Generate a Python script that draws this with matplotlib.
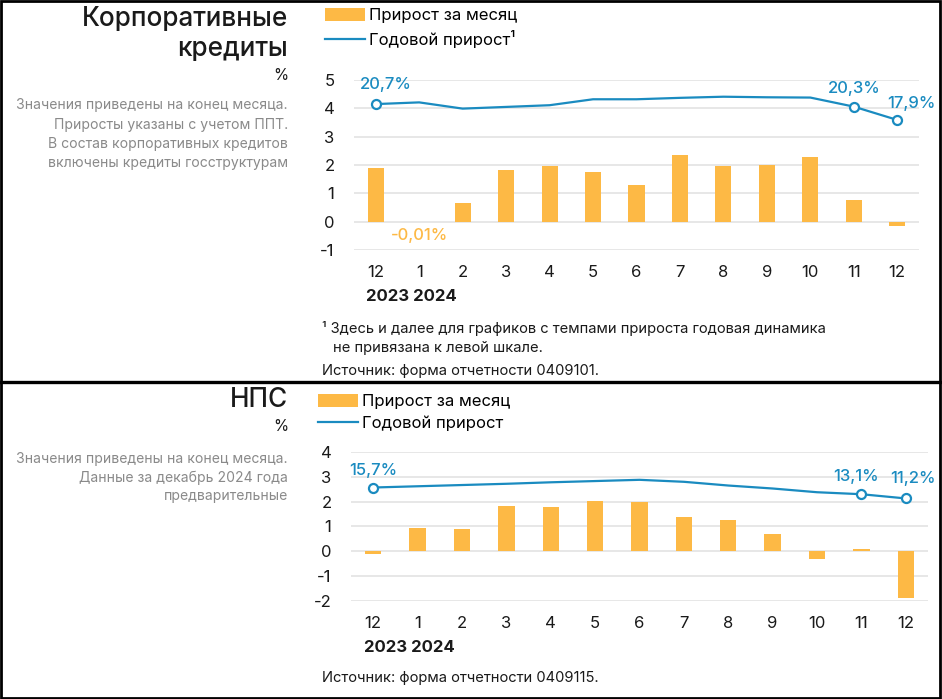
import matplotlib.pyplot as plt
from matplotlib.lines import Line2D
from matplotlib.patches import Rectangle
from matplotlib.transforms import blended_transform_factory

plt.rcParams['font.family'] = ['Inter', 'DejaVu Sans']
plt.rcParams['axes.unicode_minus'] = False

months = ["12", "1", "2", "3", "4", "5", "6", "7", "8", "9", "10", "11", "12"]

# корпоративные кредиты
corp_month = [1.88, -0.01, 0.66, 1.81, 1.96, 1.74, 1.28, 2.34, 1.96, 2.01, 2.28, 0.77, -0.16]
corp_year = [4.15, 4.21, 3.99, 4.05, 4.11, 4.32, 4.32, 4.37, 4.41, 4.39, 4.38, 4.06, 3.59]
corp_year_labels = {0: "20,7%", 11: "20,3%", 12: "17,9%"}

# НПС
nps_month = [-0.12, 0.94, 0.91, 1.82, 1.77, 2.03, 1.99, 1.39, 1.28, 0.71, -0.31, 0.11, -1.89]
nps_year = [2.57, 2.62, 2.67, 2.72, 2.78, 2.83, 2.88, 2.80, 2.65, 2.53, 2.38, 2.30, 2.13]
nps_year_labels = {0: "15,7%", 11: "13,1%", 12: "11,2%"}

ORANGE = "#FDB945"
BLUE = "#1A8BC0"
GRID = "#E3E3E3"
GRAY = "#8A8A8A"
DARK = "#1A1A1A"

W, H = 942, 699
fig = plt.figure(figsize=(W / 100, H / 100), dpi=100)


def fx(px):
    return px / W


def fy(py):
    return 1 - py / H


def panel(rect, month, year, year_labels, ylim, yticks, lab_offsets, neg_label=None):
    ax = fig.add_axes(rect)
    x = list(range(len(month)))
    bars = ax.bar(x, month, width=0.37, color=ORANGE, zorder=2)
    line, = ax.plot(x, year, color=BLUE, lw=1.6, zorder=3)
    idx = list(year_labels.keys())
    ax.plot(idx, [year[i] for i in idx], ls="none", marker="o", ms=6.5,
            mfc="white", mec=BLUE, mew=1.6, zorder=4)
    for i, (dx, dy) in zip(idx, lab_offsets):
        ax.annotate(year_labels[i], (i, year[i]), xytext=(dx, dy), textcoords="offset points",
                    ha="center", va="center", color=BLUE, fontsize=12, fontweight="medium")
    if neg_label is not None:
        i, txt = neg_label
        ax.annotate(txt, (i, month[i]), xytext=(0, -10), textcoords="offset points",
                    ha="center", va="center", color=ORANGE, fontsize=12, fontweight="medium")
    ax.set_xlim(-0.5, len(month) - 0.5)
    ax.set_ylim(*ylim)
    ax.set_yticks(yticks)
    ax.set_xticks(x)
    ax.set_xticklabels(months)
    ax.grid(axis="y", color=GRID, lw=1.2, zorder=0)
    ax.set_axisbelow(True)
    for s in ax.spines.values():
        s.set_visible(False)
    ax.tick_params(axis="x", length=0, pad=11, labelsize=12, colors=DARK)
    ax.tick_params(axis="y", length=0, pad=14, labelsize=12, colors=DARK)
    tr = blended_transform_factory(ax.transData, ax.transAxes)
    return ax, bars, line, tr


# ---------- верхняя панель ----------
ax1, b1, l1, tr1 = panel([fx(354), fy(250), fx(919 - 354), (250 - 80) / H],
                         corp_month, corp_year, corp_year_labels, (-1, 5), range(-1, 6),
                         [(7, 14), (0, 13), (10, 12)], neg_label=(1, "-0,01%"))
ax1.text(-0.22, -0.276, "2023 2024", transform=tr1, fontsize=12, fontweight="bold",
         ha="left", va="center", color=DARK)

fig.text(fx(288), fy(19), "Корпоративные", ha="right", va="center", fontsize=18.8,
         fontweight="medium", color=DARK)
fig.text(fx(288), fy(49), "кредиты", ha="right", va="center", fontsize=18.8,
         fontweight="medium", color=DARK)
fig.text(fx(288), fy(75), "%", ha="right", va="center", fontsize=11, color=DARK)
notes1 = ["Значения приведены на конец месяца.",
          "Приросты указаны с учетом ППТ.",
          "В состав корпоративных кредитов",
          "включены кредиты госструктурам"]
for k, t in enumerate(notes1):
    fig.text(fx(288), fy(105 + 19.5 * k), t, ha="right", va="center", fontsize=10.1, color=GRAY)

fig.legend([b1, l1], ["Прирост за месяц", "Годовой прирост¹"], loc="upper left",
           bbox_to_anchor=(fx(325), fy(8)), frameon=False, fontsize=12,
           handlelength=2.4, handleheight=0.8, handletextpad=0.25, labelspacing=0.4,
           borderpad=0, borderaxespad=0)

fig.text(fx(322), fy(329), "¹ Здесь и далее для графиков с темпами прироста годовая динамика",
         ha="left", va="center", fontsize=10.6, color=DARK)
fig.text(fx(333), fy(348), "не привязана к левой шкале.", ha="left", va="center",
         fontsize=10.6, color=DARK)
fig.text(fx(322), fy(371), "Источник: форма отчетности 0409101.", ha="left", va="center",
         fontsize=10.6, color=DARK)

# ---------- нижняя панель ----------
ax2, b2, l2, tr2 = panel([fx(351), fy(601), fx(928 - 351), (601 - 452) / H],
                         nps_month, nps_year, nps_year_labels, (-2, 4), range(-2, 5),
                         [(0, 12), (-4, 13), (5, 14)])
ax2.text(-0.2, -0.315, "2023 2024", transform=tr2, fontsize=12, fontweight="bold",
         ha="left", va="center", color=DARK)

fig.text(fx(288), fy(400), "НПС", ha="right", va="center", fontsize=18.8,
         fontweight="medium", color=DARK)
fig.text(fx(288), fy(427), "%", ha="right", va="center", fontsize=11, color=DARK)
notes2 = ["Значения приведены на конец месяца.",
          "Данные за декабрь 2024 года",
          "предварительные"]
for k, t in enumerate(notes2):
    fig.text(fx(288), fy(459 + 18.5 * k), t, ha="right", va="center", fontsize=10.1, color=GRAY)

fig.legend([b2, l2], ["Прирост за месяц", "Годовой прирост"], loc="upper left",
           bbox_to_anchor=(fx(318), fy(394)), frameon=False, fontsize=12,
           handlelength=2.4, handleheight=0.8, handletextpad=0.25, labelspacing=0.4,
           borderpad=0, borderaxespad=0)

fig.text(fx(322), fy(678), "Источник: форма отчетности 0409115.", ha="left", va="center",
         fontsize=10.6, color=DARK)

# рамка
fig.add_artist(Rectangle((0.001, 0.002), 0.997, 0.997, transform=fig.transFigure,
                         fill=False, ec="black", lw=2))
fig.add_artist(Line2D([0, 1], [fy(382), fy(382)], transform=fig.transFigure,
                      color="black", lw=2.4))

fig.savefig("out.png", dpi=100)
